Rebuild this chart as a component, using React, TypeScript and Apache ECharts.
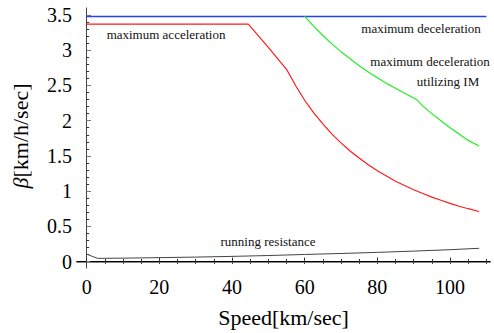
import React, { useEffect, useRef } from "react";
import * as echarts from "echarts";

const decelSpeed = [0, 110];
const decelBeta = [3.48, 3.48];

const accelSpeed = [0, 44.5, 50, 55, 57.5, 60, 62.5, 65, 67.5, 70, 72.5, 75, 77.5, 80, 82.5, 85, 87.5, 90, 92.5, 95, 97.5, 100, 102.5, 105, 108];
const accelBeta = [3.37, 3.37, 3.04, 2.73, 2.5, 2.29, 2.11, 1.955, 1.81, 1.685, 1.57, 1.47, 1.375, 1.29, 1.215, 1.14, 1.08, 1.02, 0.965, 0.915, 0.87, 0.825, 0.785, 0.75, 0.71];

const imSpeed = [60, 62.5, 65, 67.5, 70, 72.5, 75, 77.5, 80, 82.5, 85, 87.5, 90.8, 92.5, 95, 97.5, 100, 102.5, 105, 108];
const imBeta = [3.48, 3.34, 3.21, 3.09, 2.98, 2.88, 2.78, 2.69, 2.61, 2.53, 2.46, 2.39, 2.3, 2.21, 2.1, 2.0, 1.9, 1.81, 1.72, 1.64];

const resSpeed = [0, 3, 10, 20, 30, 40, 50, 60, 70, 80, 90, 100, 108];
const resBeta = [0.105, 0.045, 0.048, 0.055, 0.063, 0.073, 0.085, 0.1, 0.114, 0.13, 0.148, 0.168, 0.188];

const xMajor = [0, 20, 40, 60, 80, 100];
const xMinor = [0, 5, 10, 15, 20, 25, 30, 35, 40, 45, 50, 55, 60, 65, 70, 75, 80, 85, 90, 95, 100, 105, 110];
const yMajor = [0, 0.5, 1, 1.5, 2, 2.5, 3, 3.5];
const yMinor = [0, 0.1, 0.2, 0.3, 0.4, 0.5, 0.6, 0.7, 0.8, 0.9, 1, 1.1, 1.2, 1.3, 1.4, 1.5, 1.6, 1.7, 1.8, 1.9, 2, 2.1, 2.2, 2.3, 2.4, 2.5, 2.6, 2.7, 2.8, 2.9, 3, 3.1, 3.2, 3.3, 3.4, 3.5];

const pairs = (xs: number[], ys: number[]) => xs.map((x, i) => [x, ys[i]]);

const FONT = "'Liberation Serif', 'DejaVu Serif', serif";

export default function App() {
  const ref = useRef<HTMLDivElement>(null);
  useEffect(() => {
    if (!ref.current) return;
    const chart = echarts.init(ref.current, null, { renderer: "svg" });
    const xMin = -2.65;
    const xMax = 111;
    const yMin = -0.092;
    const yMax = 3.6;
    const baseX = { type: "value", min: xMin, max: xMax, splitLine: { show: false } };
    const baseY = { type: "value", min: yMin, max: yMax, splitLine: { show: false } };
    chart.setOption({
      animation: false,
      textStyle: { fontFamily: FONT },
      grid: { left: 77, top: 8, width: 413, height: 260 },
      xAxis: [
        {
          ...baseX,
          position: "bottom",
          axisLine: { show: true, lineStyle: { color: "#888", width: 2 } },
          axisTick: { show: true, inside: true, length: 4, customValues: xMajor, lineStyle: { color: "#333" } },
          axisLabel: { customValues: xMajor, fontSize: 20, fontFamily: FONT, color: "#000", margin: 9 },
          name: "Speed[km/sec]",
          nameLocation: "middle",
          nameGap: 38,
          nameTextStyle: { fontSize: 22, fontFamily: FONT, color: "#000" },
        },
        {
          ...baseX,
          position: "bottom",
          axisLine: { show: false },
          axisTick: { show: true, inside: true, length: 2.5, customValues: xMinor, lineStyle: { color: "#333" } },
          axisLabel: { show: false },
        },
        {
          ...baseX,
          position: "top",
          axisLine: { show: true, lineStyle: { color: "#000", width: 1 } },
          axisTick: { show: true, inside: true, length: 2.5, customValues: xMinor, lineStyle: { color: "#444" } },
          axisLabel: { show: false },
        },
      ],
      yAxis: [
        {
          ...baseY,
          position: "left",
          axisLine: { show: true, lineStyle: { color: "#444", width: 1 } },
          axisTick: { show: true, inside: true, length: 4, customValues: yMajor, lineStyle: { color: "#333" } },
          axisLabel: { customValues: yMajor, fontSize: 20, fontFamily: FONT, color: "#000", margin: 5 },
        },
        {
          ...baseY,
          position: "left",
          axisLine: { show: false },
          axisTick: { show: true, inside: true, length: 2.5, customValues: yMinor, lineStyle: { color: "#333" } },
          axisLabel: { show: false },
        },
        {
          ...baseY,
          position: "right",
          axisLine: { show: false },
          axisTick: { show: true, inside: false, length: 3, customValues: yMajor, lineStyle: { color: "#888" } },
          axisLabel: { show: false },
        },
      ],
      graphic: [
        {
          type: "text",
          x: 20,
          y: 136,
          rotation: Math.PI / 2,
          style: {
            text: "{b|β}[km/h/sec]",
            fontSize: 22,
            fontFamily: FONT,
            fill: "#000",
            align: "center",
            verticalAlign: "middle",
            rich: { b: { fontSize: 22, fontFamily: FONT, fontStyle: "italic", fill: "#000" } },
          },
        },
        { type: "text", x: 166, y: 34, style: { text: "maximum acceleration", fontSize: 13, fontFamily: FONT, fill: "#111", align: "center", verticalAlign: "middle" } },
        { type: "text", x: 421, y: 28, style: { text: "maximum deceleration", fontSize: 13, fontFamily: FONT, fill: "#111", align: "center", verticalAlign: "middle" } },
        { type: "text", x: 430, y: 61, style: { text: "maximum deceleration", fontSize: 13, fontFamily: FONT, fill: "#111", align: "center", verticalAlign: "middle" } },
        { type: "text", x: 448, y: 81, style: { text: "utilizing IM", fontSize: 13, fontFamily: FONT, fill: "#111", align: "center", verticalAlign: "middle" } },
        { type: "text", x: 268, y: 241, style: { text: "running resistance", fontSize: 13, fontFamily: FONT, fill: "#111", align: "center", verticalAlign: "middle" } },
      ],
      series: [
        { type: "line", name: "maximum deceleration", data: pairs(decelSpeed, decelBeta), showSymbol: false, lineStyle: { color: "#2244ee", width: 1.5 }, xAxisIndex: 0, yAxisIndex: 0 },
        { type: "line", name: "maximum acceleration", data: pairs(accelSpeed, accelBeta), showSymbol: false, lineStyle: { color: "#ff1a1a", width: 1.2 }, xAxisIndex: 0, yAxisIndex: 0 },
        { type: "line", name: "maximum deceleration utilizing IM", data: pairs(imSpeed, imBeta), showSymbol: false, lineStyle: { color: "#22ee22", width: 1.2 }, xAxisIndex: 0, yAxisIndex: 0 },
        { type: "line", name: "running resistance", data: pairs(resSpeed, resBeta), showSymbol: false, lineStyle: { color: "#444", width: 1 }, xAxisIndex: 0, yAxisIndex: 0 },
      ],
    });
    return () => chart.dispose();
  }, []);
  return <div ref={ref} style={{ width: 494, height: 333, position: "absolute", left: 0, top: 0 }} />;
}
